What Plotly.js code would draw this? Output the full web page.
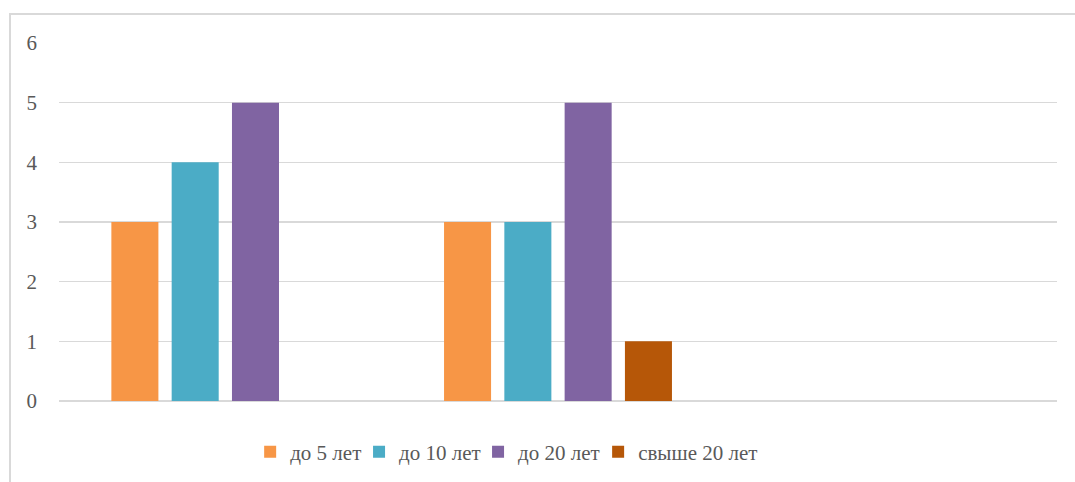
<!DOCTYPE html>
<html>
<head>
<meta charset="utf-8">
<script src="https://cdn.plot.ly/plotly-3.0.1.min.js"></script>
<style>
html,body{margin:0;padding:0;background:#fff;overflow:hidden;}
#frame{position:absolute;left:9px;top:13px;width:1200px;height:600px;border:2px solid #D9D9D9;box-sizing:border-box;pointer-events:none;z-index:5;}
#chart{position:absolute;left:0;top:0;width:1075px;height:482px;}
</style>
</head>
<body>
<div id="chart"></div>
<div id="frame"></div>
<script>
const categories = ["A", "B", "C"];
const seriesNames = ["до 5 лет", "до 10 лет", "до 20 лет", "свыше 20 лет"];
const upTo5 = [3, 3, 0];
const upTo10 = [4, 3, 0];
const upTo20 = [5, 5, 0];
const over20 = [0, 1, 0];
const tickVals = [0, 1, 2, 3, 4, 5, 6];
const colors = ["#F79646", "#4BACC6", "#8064A2", "#B65708"];
const FONT = "'Times New Roman', 'Liberation Serif', 'DejaVu Serif', serif";

const legendIds = ["legend", "legend2", "legend3", "legend4"];
const legendX = [0.2327, 0.3340, 0.4447, 0.5564];

const seriesValues = [upTo5, upTo10, upTo20, over20];
const data = seriesValues.map((vals, i) => ({
  type: "bar",
  name: seriesNames[i],
  x: categories,
  y: vals,
  legend: legendIds[i],
  marker: {color: colors[i], line: {width: 0}},
  hoverinfo: "skip"
}));

const layout = {
  width: 1075,
  height: 482,
  margin: {l: 59, r: 18, t: 43, b: 81, pad: 0, autoexpand: false},
  paper_bgcolor: "#ffffff",
  plot_bgcolor: "#ffffff",
  barmode: "group",
  bargap: 0.275,
  bargroupgap: 0.22,
  font: {family: FONT, color: "#595959", size: 20},
  xaxis: {
    type: "category",
    range: [-0.5, 2.5],
    showticklabels: false,
    showgrid: false,
    zeroline: false,
    showline: false,
    ticks: ""
  },
  yaxis: {
    range: [0, 6],
    tickvals: tickVals,
    ticktext: tickVals.map(String),
    showgrid: true,
    gridcolor: "#D9D9D9",
    gridwidth: 1.5,
    zeroline: true,
    zerolinecolor: "#D9D9D9",
    zerolinewidth: 1.5,
    showline: false,
    ticks: "",
    ticklabelstandoff: 21,
    tickfont: {family: FONT, size: 21, color: "#595959"}
  },
  showlegend: true
};

legendIds.forEach((id, i) => {
  layout[id] = {
    orientation: "h",
    xref: "container",
    yref: "container",
    x: legendX[i],
    xanchor: "left",
    y: 0.0622,
    yanchor: "middle",
    font: {family: FONT, size: 21, color: "#595959"},
    bgcolor: "rgba(0,0,0,0)",
    itemwidth: 30
  };
});

Plotly.newPlot("chart", data, layout, {displayModeBar: false, staticPlot: true});
</script>
</body>
</html>
